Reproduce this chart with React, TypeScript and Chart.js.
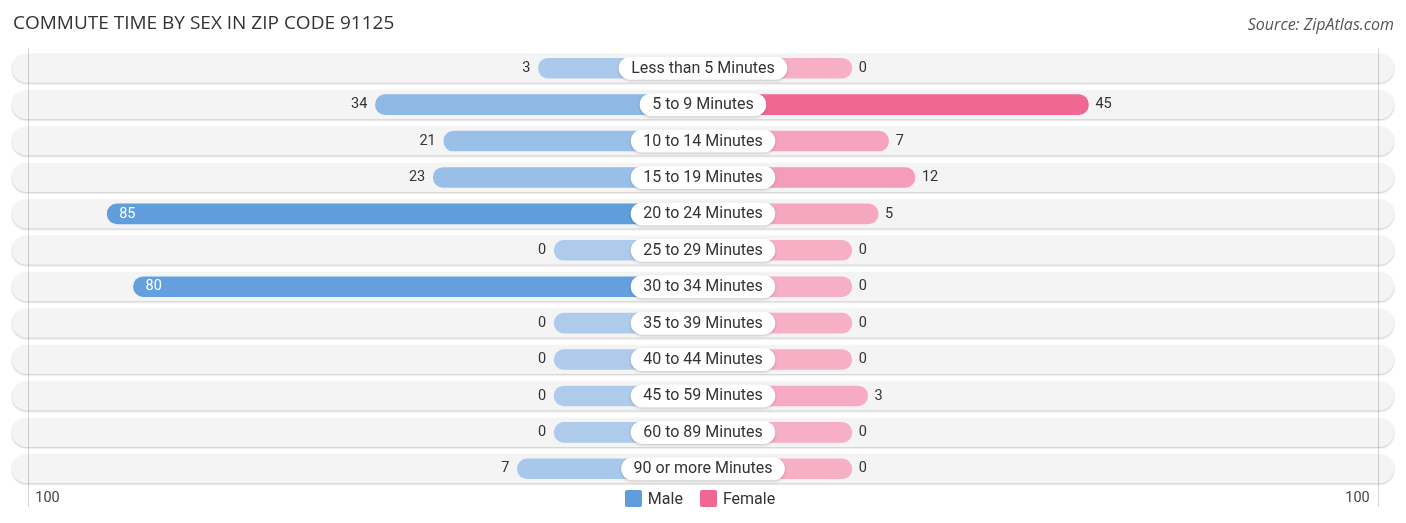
import { useEffect, useRef } from "react";
import Chart from "chart.js/auto";

const categories = [
  "Less than 5 Minutes",
  "5 to 9 Minutes",
  "10 to 14 Minutes",
  "15 to 19 Minutes",
  "20 to 24 Minutes",
  "25 to 29 Minutes",
  "30 to 34 Minutes",
  "35 to 39 Minutes",
  "40 to 44 Minutes",
  "45 to 59 Minutes",
  "60 to 89 Minutes",
  "90 or more Minutes",
];
const maleValues = [3, 34, 21, 23, 85, 0, 80, 0, 0, 0, 0, 7];
const femaleValues = [0, 45, 7, 12, 5, 0, 0, 0, 0, 3, 0, 0];
const axisLabel = "100";

// every bar starts with a stub hidden under the category label
const STUB = 28.3;
const AXIS_MAX = 131.4;
const FONT = "Roboto, 'Open Sans', sans-serif";

const MALE_LIGHT = [174, 203, 236];
const MALE_DARK = [95, 157, 220];
const FEMALE_LIGHT = [247, 175, 198];
const FEMALE_DARK = [240, 104, 146];

function mix(a: number[], b: number[], t: number) {
  const c = a.map((v, i) => Math.round(v + (b[i] - v) * t));
  return `rgb(${c[0]}, ${c[1]}, ${c[2]})`;
}

const maleMax = Math.max(...maleValues);
const femaleMax = Math.max(...femaleValues);

const rowsPlugin = {
  id: "rows",
  beforeDatasetsDraw(chart: any) {
    const { ctx, chartArea, scales } = chart;
    const x = scales.x;
    const y = scales.y;
    const left = x.getPixelForValue(-AXIS_MAX);
    const right = x.getPixelForValue(AXIS_MAX);
    ctx.save();
    categories.forEach((_, i) => {
      const yc = y.getPixelForValue(i);
      const h = 29;
      ctx.save();
      ctx.shadowColor = "rgba(0,0,0,0.22)";
      ctx.shadowBlur = 2;
      ctx.shadowOffsetY = 1;
      ctx.fillStyle = "#f4f4f4";
      ctx.beginPath();
      ctx.roundRect(left, yc - h / 2, right - left, h, h / 2);
      ctx.fill();
      ctx.restore();
    });
    // gridlines at +-100
    ctx.strokeStyle = "rgba(0,0,0,0.16)";
    ctx.lineWidth = 1;
    [-(100 + STUB), 100 + STUB].forEach((v) => {
      const px = Math.round(x.getPixelForValue(v)) + 0.5;
      ctx.beginPath();
      ctx.moveTo(px, chartArea.top - 2);
      ctx.lineTo(px, chartArea.bottom + 20);
      ctx.stroke();
    });
    ctx.fillStyle = "#444";
    ctx.font = `14.5px ${FONT}`;
    ctx.textBaseline = "middle";
    const ly = chartArea.bottom + 11;
    ctx.textAlign = "left";
    ctx.fillText(axisLabel, x.getPixelForValue(-(100 + STUB)) + 7, ly);
    ctx.textAlign = "right";
    ctx.fillText(axisLabel, x.getPixelForValue(100 + STUB) - 8, ly);
    ctx.restore();
  },
  afterDatasetsDraw(chart: any) {
    const { ctx, scales } = chart;
    const x = scales.x;
    const y = scales.y;
    const cx = x.getPixelForValue(0);
    ctx.save();
    ctx.textBaseline = "middle";
    categories.forEach((label, i) => {
      const yc = y.getPixelForValue(i);
      // value labels
      ctx.font = `14.5px ${FONT}`;
      const mv = maleValues[i];
      const mEnd = x.getPixelForValue(-(STUB + mv));
      if (mv > 60) {
        ctx.fillStyle = "#fff";
        ctx.textAlign = "left";
        ctx.fillText(String(mv), mEnd + 12, yc);
      } else {
        ctx.fillStyle = "#333";
        ctx.textAlign = "right";
        ctx.fillText(String(mv), mEnd - 8, yc);
      }
      const fv = femaleValues[i];
      const fEnd = x.getPixelForValue(STUB + fv);
      if (fv > 60) {
        ctx.fillStyle = "#fff";
        ctx.textAlign = "right";
        ctx.fillText(String(fv), fEnd - 12, yc);
      } else {
        ctx.fillStyle = "#333";
        ctx.textAlign = "left";
        ctx.fillText(String(fv), fEnd + 7, yc);
      }
      // category label pill
      ctx.font = `16px ${FONT}`;
      const w = ctx.measureText(label).width + 25;
      const h = 23;
      ctx.save();
      ctx.shadowColor = "rgba(0,0,0,0.2)";
      ctx.shadowBlur = 3;
      ctx.shadowOffsetY = 1;
      ctx.fillStyle = "#fff";
      ctx.beginPath();
      ctx.roundRect(cx - w / 2, yc - h / 2, w, h, h / 2);
      ctx.fill();
      ctx.restore();
      ctx.fillStyle = "#333";
      ctx.textAlign = "center";
      ctx.fillText(label, cx, yc + 0.5);
    });
    ctx.restore();
  },
};

const legendItems = [
  { text: "Male", color: mix(MALE_LIGHT, MALE_DARK, 1) },
  { text: "Female", color: mix(FEMALE_LIGHT, FEMALE_DARK, 1) },
];

export default function App() {
  const chartRef = useRef<HTMLCanvasElement>(null);
  const chartInstanceRef = useRef<Chart | null>(null);

  useEffect(() => {
    document.body.style.margin = "0";
    if (!chartRef.current) return;
    if (chartInstanceRef.current) {
      chartInstanceRef.current.destroy();
    }
    const ctx = chartRef.current.getContext("2d");
    if (!ctx) return;

    chartInstanceRef.current = new Chart(ctx, {
      type: "bar",
      data: {
        labels: categories,
        datasets: [
          {
            label: "Male",
            data: maleValues.map((v) => [-(STUB + v), 0]) as any,
            backgroundColor: maleValues.map((v) => mix(MALE_LIGHT, MALE_DARK, v / maleMax)),
            barThickness: 20,
            borderRadius: 10,
            borderSkipped: false,
            grouped: false,
          },
          {
            label: "Female",
            data: femaleValues.map((v) => [0, STUB + v]) as any,
            backgroundColor: femaleValues.map((v) => mix(FEMALE_LIGHT, FEMALE_DARK, v / femaleMax)),
            barThickness: 20,
            borderRadius: 10,
            borderSkipped: false,
            grouped: false,
          },
        ],
      },
      options: {
        indexAxis: "y",
        animation: false,
        responsive: false,
        maintainAspectRatio: false,
        layout: { padding: { top: 50, bottom: 36, left: 12, right: 12 } },
        scales: {
          x: { display: false, min: -AXIS_MAX, max: AXIS_MAX },
          y: { display: false },
        },
        plugins: {
          tooltip: { enabled: false },
          legend: { display: false },
        },
      },
      plugins: [rowsPlugin],
    });

    return () => {
      if (chartInstanceRef.current) {
        chartInstanceRef.current.destroy();
        chartInstanceRef.current = null;
      }
    };
  }, []);

  return (
    <div style={{ position: "relative", width: 1406, height: 523, background: "#fff" }}>
      <canvas ref={chartRef} width={1406} height={523} style={{ position: "absolute", left: 0, top: 0 }}></canvas>
      <div
        style={{
          position: "absolute",
          left: 13,
          top: 9,
          fontFamily: "'Open Sans', Roboto, sans-serif",
          fontSize: 19,
          color: "#333",
          whiteSpace: "nowrap",
        }}
      >
        COMMUTE TIME BY SEX IN ZIP CODE 91125
      </div>
      <div
        style={{
          position: "absolute",
          right: 12,
          top: 13,
          fontFamily: "'Open Sans', Roboto, sans-serif",
          fontSize: 16,
          fontStyle: "italic",
          color: "#555",
          whiteSpace: "nowrap",
        }}
      >
        Source: ZipAtlas.com
      </div>
      <div
        style={{
          position: "absolute",
          left: 0,
          width: 1400,
          top: 488,
          height: 20,
          display: "flex",
          justifyContent: "center",
          alignItems: "center",
          gap: 17,
          fontFamily: FONT,
          fontSize: 16,
          color: "#333",
        }}
      >
        {legendItems.map((item) => (
          <div key={item.text} style={{ display: "flex", alignItems: "center", gap: 6 }}>
            <span style={{ display: "inline-block", width: 17, height: 17, borderRadius: 2, background: item.color }}></span>
            <span>{item.text}</span>
          </div>
        ))}
      </div>
    </div>
  );
}
